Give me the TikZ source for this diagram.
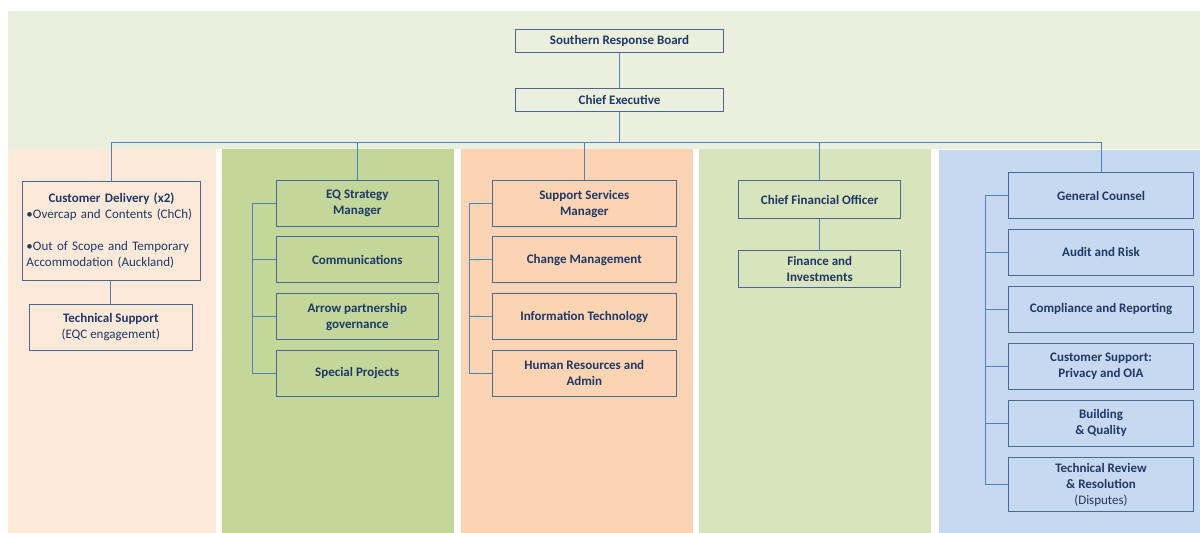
\documentclass[tikz,border=0pt]{standalone}
\usepackage{fontspec}
\setmainfont{Carlito}
\definecolor{bandc}{HTML}{EAEFDE}
\definecolor{colA}{HTML}{FCE9DA}
\definecolor{colB}{HTML}{C4D79B}
\definecolor{colC}{HTML}{FBD4B4}
\definecolor{colD}{HTML}{D8E4BC}
\definecolor{colE}{HTML}{C6D9F1}
\definecolor{boxline}{HTML}{4A6894}
\definecolor{conn}{HTML}{4F81BD}
\definecolor{txt}{HTML}{1F3864}
\begin{document}
\begin{tikzpicture}[x=1pt,y=-1pt,
  orgbox/.style={draw=boxline, line width=0.9pt, text=txt,
    font=\fontsize{13}{16}\selectfont\bfseries, align=center, inner sep=2pt},
  tallbox/.style={orgbox, minimum height=46},
  link/.style={draw=conn, line width=1pt}]
\useasboundingbox (0,0) rectangle (1200,533);
% background panels
\fill[bandc] (8,11) rectangle (1200,149);
\fill[colA] (8,149) rectangle (216,533);
\fill[colB] (222,149) rectangle (454,533);
\fill[colC] (461,149) rectangle (693,533);
\fill[colD] (699,149) rectangle (931,533);
\fill[colE] (939,150) rectangle (1200,533);
% top
\node[orgbox, minimum width=207.6, minimum height=23.4] (board) at (619.5,41) {Southern Response Board};
\node[orgbox, minimum width=207.6, minimum height=23] (ceo) at (619.5,99.8) {Chief Executive};
% column 1
\node[orgbox, minimum width=177.6, minimum height=99.3, text width=170, align=left,
  font=\fontsize{13}{16}\selectfont] (cd) at (111.5,230.7)
  {\makebox[\linewidth][c]{\bfseries Customer Delivery (x2)}\\
   •Overcap and Contents (ChCh)\\[16pt]
   •Out of Scope and Temporary\\
   Accommodation (Auckland)};
\node[tallbox, minimum width=162.3] (ts) at (110.8,327) {Technical Support\\{\mdseries(EQC engagement)}};
% column 2
\node[tallbox, minimum width=162] (eq) at (357.3,203.8) {EQ Strategy\\Manager};
\node[tallbox, minimum width=162] (comm) at (357.3,259.8) {Communications};
\node[tallbox, minimum width=162] (arr) at (357.3,316.7) {Arrow partnership\\governance};
\node[tallbox, minimum width=162] (special) at (357.3,373) {Special Projects};
% column 3
\node[tallbox, minimum width=184.7] (ss) at (584.3,203.8) {Support Services\\Manager};
\node[tallbox, minimum width=184.7] (chg) at (584.3,259.8) {Change Management};
\node[tallbox, minimum width=184.7] (it) at (584.3,316.7) {Information Technology};
\node[tallbox, minimum width=184.7] (hr) at (584.3,373) {Human Resources and\\Admin};
% column 4
\node[orgbox, minimum width=162, minimum height=38] (cfo) at (819.7,199.7) {Chief Financial Officer};
\node[orgbox, minimum width=162, minimum height=37.4] (fin) at (819.7,269) {Finance and\\Investments};
% column 5
\node[tallbox, minimum width=184.6] (gc) at (1101,195.5) {General Counsel};
\node[tallbox, minimum width=184.6] (audit) at (1101,252.3) {Audit and Risk};
\node[tallbox, minimum width=184.6] (comp) at (1101,309.2) {Compliance and Reporting};
\node[tallbox, minimum width=184.6] (cs) at (1101,366.7) {Customer Support:\\Privacy and OIA};
\node[tallbox, minimum width=184.6] (bq) at (1101,423.3) {Building\\\&~Quality};
\node[orgbox, minimum width=184.6, minimum height=54.4] (tr) at (1101,484.5) {Technical Review\\\& Resolution\\{\mdseries(Disputes)}};
% connectors
\coordinate (bus) at (619.5,142.3);
\draw[link] (board.south) -- (ceo.north);
\draw[link] (ceo.south) -- (ceo.south |- bus);
\draw[link] (cd.north) -- (cd.north |- bus) -| (gc.north);
\draw[link] (eq.north) -- (eq.north |- bus);
\draw[link] (ss.north) -- (ss.north |- bus);
\draw[link] (cfo.north) -- (cfo.north |- bus);
\draw[link] (ts.north) -- (ts.north |- cd.south);
\draw[link] (cfo.south) -- (fin.north);
% brackets
\coordinate (bB) at (252.3,0);
\coordinate (bC) at (469.3,0);
\coordinate (bE) at (985.7,0);
\draw[link] (eq.west) -- (eq.west -| bB) -- (special.west -| bB) -- (special.west);
\draw[link] (comm.west) -- (comm.west -| bB);
\draw[link] (arr.west) -- (arr.west -| bB);
\draw[link] (ss.west) -- (ss.west -| bC) -- (hr.west -| bC) -- (hr.west);
\draw[link] (chg.west) -- (chg.west -| bC);
\draw[link] (it.west) -- (it.west -| bC);
\draw[link] (gc.west) -- (gc.west -| bE) -- (tr.west -| bE) -- (tr.west);
\draw[link] (audit.west) -- (audit.west -| bE);
\draw[link] (comp.west) -- (comp.west -| bE);
\draw[link] (cs.west) -- (cs.west -| bE);
\draw[link] (bq.west) -- (bq.west -| bE);
\end{tikzpicture}
\end{document}
